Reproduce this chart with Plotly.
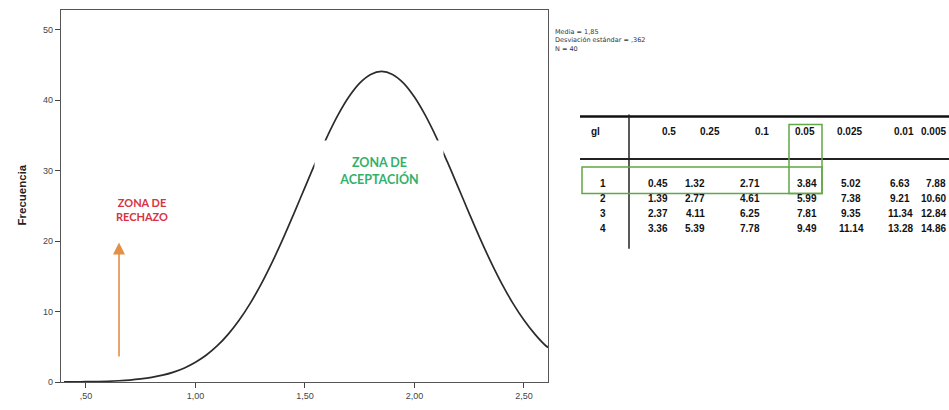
import plotly.graph_objects as go

# ---- data ----
curve_x = [0.40, 0.45, 0.50, 0.55, 0.60, 0.65, 0.70, 0.75, 0.80, 0.85, 0.90, 0.95,
           1.00, 1.05, 1.10, 1.15, 1.20, 1.25, 1.30, 1.35, 1.40, 1.45, 1.50, 1.55,
           1.60, 1.65, 1.70, 1.75, 1.80, 1.85, 1.90, 1.95, 2.00, 2.05, 2.10, 2.15,
           2.20, 2.25, 2.30, 2.35, 2.40, 2.45, 2.50, 2.55, 2.60, 2.62]
curve_y = [0.01, 0.03, 0.04, 0.07, 0.11, 0.18, 0.28, 0.44, 0.66, 0.97, 1.41, 2.0,
           2.8, 3.83, 5.15, 6.79, 8.79, 11.16, 13.89, 16.98, 20.35, 23.94, 27.62, 31.27,
           34.73, 37.84, 40.45, 42.43, 43.66, 44.08, 43.66, 42.43, 40.45, 37.84, 34.73, 31.27,
           27.62, 23.94, 20.35, 16.98, 13.89, 11.16, 8.79, 6.79, 5.15, 4.75]

x_tick_vals = [0.5, 1.0, 1.5, 2.0, 2.5]
x_tick_text = [",50", "1,00", "1,50", "2,00", "2,50"]
y_tick_vals = [0, 10, 20, 30, 40, 50]

stats_lines = ["Media = 1,85", "Desviación estándar = ,362", "N = 40"]

table_header = ["gl", "0.5", "0.25", "0.1", "0.05", "0.025", "0.01", "0.005"]
table_rows = [
    ["1", "0.45", "1.32", "2.71", "3.84", "5.02", "6.63", "7.88"],
    ["2", "1.39", "2.77", "4.61", "5.99", "7.38", "9.21", "10.60"],
    ["3", "2.37", "4.11", "6.25", "7.81", "9.35", "11.34", "12.84"],
    ["4", "3.36", "5.39", "7.78", "9.49", "11.14", "13.28", "14.86"],
]

# ---- layout geometry (pixels) ----
W, H = 949, 410
PL, PR, PT, PB = 61, 548, 9, 386


def px(x):
    return (x - PL) / (PR - PL)


def py(y):
    return (PB - y) / (PB - PT)


fig = go.Figure()
fig.add_trace(go.Scatter(x=curve_x, y=curve_y, mode="lines",
                         line=dict(color="#2b2b2b", width=1.7, shape="spline"),
                         hoverinfo="skip", showlegend=False))

ann = []
# y-axis title
ann.append(dict(text="<b>Frecuencia</b>", xref="paper", yref="paper", x=px(22), y=py(197),
                textangle=-90, showarrow=False, xanchor="center", yanchor="middle",
                font=dict(family="Liberation Sans, Arial", size=11.5, color="#222")))
# acceptance zone (white box masks the curve)
ann.append(dict(text="<b>ZONA DE<br>ACEPTACIÓN</b>", x=1.838, y=29.9, xref="x", yref="y",
                showarrow=False, bgcolor="white", width=126, height=58,
                font=dict(family="Lato, Open Sans, sans-serif", size=12.5, color="#33b06a")))
# rejection zone
ann.append(dict(text="<b>ZONA DE<br>RECHAZO</b>", x=0.756, y=24.5, xref="x", yref="y",
                showarrow=False, bgcolor="white",
                font=dict(family="Lato, Open Sans, sans-serif", size=11, color="#d8343f")))
# arrow
ann.append(dict(text="", x=0.651, y=19.8, xref="x", yref="y", ax=0.651, ay=3.4,
                axref="x", ayref="y", showarrow=True, arrowhead=2, arrowsize=1.5,
                arrowwidth=1.6, arrowcolor="#e39046", standoff=0))
# stats text (single block)
ann.append(dict(text="<br>".join(stats_lines), xref="paper", yref="paper", x=px(554),
                y=py(26), xanchor="left", yanchor="top", align="left", showarrow=False,
                borderpad=0,
                font=dict(family="DejaVu Sans, Liberation Sans", size=6.5, color="#333")))

# table
tfont = dict(family="Liberation Sans, Arial, sans-serif", size=10, color="#111")
head_x = [595, 669, 710, 762, 805, 849, 904]
val_x = [603, 658, 695, 750, 807, 851, 900]
row_y = [185, 200, 215, 230]
for j, h in enumerate(table_header):
    if j < 7:
        ann.append(dict(text="<b>%s</b>" % h, xref="paper", yref="paper", x=px(head_x[j]),
                        y=py(132), xanchor="center", yanchor="middle", showarrow=False,
                        font=tfont))
    else:
        ann.append(dict(text="<b>%s</b>" % h, xref="paper", yref="paper", x=px(948),
                        y=py(132), xanchor="right", yanchor="middle", showarrow=False,
                        font=tfont))
for i, row in enumerate(table_rows):
    for j, v in enumerate(row):
        if j < 7:
            ann.append(dict(text="<b>%s</b>" % v, xref="paper", yref="paper", x=px(val_x[j]),
                            y=py(row_y[i]), xanchor="center", yanchor="middle",
                            showarrow=False, font=tfont))
        else:
            ann.append(dict(text="<b>%s</b>" % v, xref="paper", yref="paper", x=px(948),
                            y=py(row_y[i]), xanchor="right", yanchor="middle",
                            showarrow=False, font=tfont))

shapes = [
    dict(type="line", xref="paper", yref="paper", x0=px(580), x1=px(949), y0=py(117), y1=py(117),
         line=dict(color="#111", width=2.5)),
    dict(type="line", xref="paper", yref="paper", x0=px(580), x1=px(949), y0=py(160), y1=py(160),
         line=dict(color="#222", width=2)),
    dict(type="line", xref="paper", yref="paper", x0=px(629), x1=px(629), y0=py(115), y1=py(251),
         line=dict(color="#222", width=1.5)),
    dict(type="rect", xref="paper", yref="paper", x0=px(582), x1=px(822), y0=py(168), y1=py(195),
         line=dict(color="#5fa845", width=1.5)),
    dict(type="rect", xref="paper", yref="paper", x0=px(789), x1=px(822), y0=py(125), y1=py(195),
         line=dict(color="#5fa845", width=1.5)),
]

fig.update_layout(
    width=W, height=H,
    margin=dict(l=PL, r=W - PR, t=PT, b=H - PB, pad=0),
    paper_bgcolor="white", plot_bgcolor="white",
    annotations=ann, shapes=shapes, showlegend=False,
    xaxis=dict(range=[0.386, 2.61], tickvals=x_tick_vals, ticktext=x_tick_text,
               ticks="outside", ticklen=5, tickcolor="#444", showgrid=False, zeroline=False,
               showline=True, linecolor="#555", linewidth=1.2, mirror=True,
               tickfont=dict(family="Liberation Sans, Arial", size=9, color="#444")),
    yaxis=dict(range=[0, 52.8], tickvals=y_tick_vals,
               ticks="outside", ticklen=5, tickcolor="#444", showgrid=False, zeroline=False,
               showline=True, linecolor="#555", linewidth=1.2, mirror=True,
               tickfont=dict(family="Liberation Sans, Arial", size=9, color="#444")),
)

fig.write_html("out.html", config={"displayModeBar": False},
               post_script="document.body.style.margin='0';")
